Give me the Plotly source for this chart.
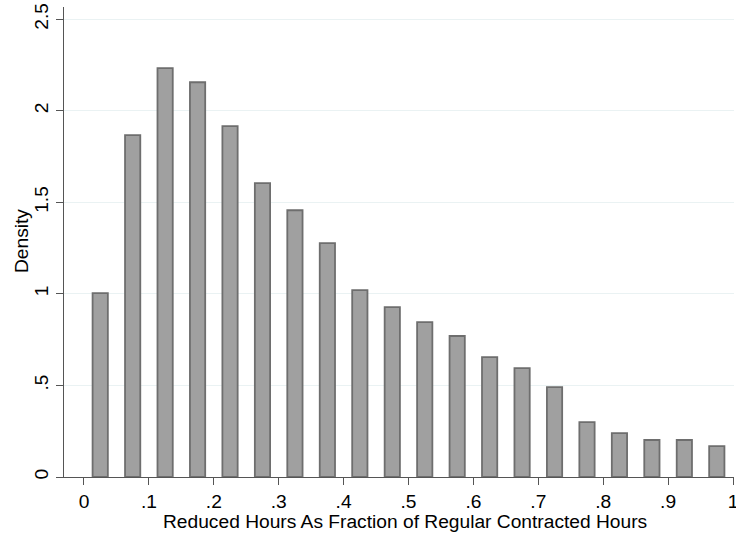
import plotly.graph_objects as go

bin_centers = [0.025, 0.075, 0.125, 0.175, 0.225, 0.275, 0.325, 0.375, 0.425, 0.475,
               0.525, 0.575, 0.625, 0.675, 0.725, 0.775, 0.825, 0.875, 0.925, 0.975]
density = [1.004, 1.867, 2.233, 2.156, 1.916, 1.605, 1.457, 1.277, 1.021, 0.928,
           0.846, 0.770, 0.655, 0.595, 0.491, 0.300, 0.240, 0.202, 0.202, 0.169]

x_tick_vals = [0, 0.1, 0.2, 0.3, 0.4, 0.5, 0.6, 0.7, 0.8, 0.9, 1.0]
x_tick_text = ["0", ".1", ".2", ".3", ".4", ".5", ".6", ".7", ".8", ".9", "1"]
y_tick_vals = [0, 0.5, 1.0, 1.5, 2.0, 2.5]
y_tick_text = ["0", ".5", "1", "1.5", "2", "2.5"]
x_title = "Reduced Hours As Fraction of Regular Contracted Hours"
y_title = "Density"

font_family = "Liberation Sans, Arial, sans-serif"
fs = 19.2

fig = go.Figure()
fig.add_trace(go.Bar(
    x=bin_centers, y=density, width=0.0235,
    marker=dict(color="#a0a0a0", line=dict(color="#6e6e6e", width=1.8)),
))

fig.update_layout(
    width=736, height=533,
    margin=dict(l=64, r=2, t=7, b=56, autoexpand=False),
    paper_bgcolor="white", plot_bgcolor="white",
    showlegend=False,
    font=dict(family=font_family, size=fs, color="#000000"),
    xaxis=dict(
        range=[-0.0308, 1.0015],
        automargin=False,
        tickmode="array", tickvals=x_tick_vals, ticktext=x_tick_text,
        ticks="outside", ticklen=7, tickwidth=1, tickcolor="#555555",
        showline=True, linecolor="#555555", linewidth=1.2,
        showgrid=False, zeroline=False,
        ticklabeloverflow="allow",
        tickfont=dict(size=fs),
    ),
    yaxis=dict(
        range=[0, 2.567],
        automargin=False,
        tickmode="array", tickvals=y_tick_vals, ticktext=y_tick_text,
        tickangle=-90,
        ticks="outside", ticklen=7, tickwidth=1, tickcolor="#555555",
        showline=True, linecolor="#555555", linewidth=1.2,
        showgrid=True, gridcolor="#eaf2f3", gridwidth=1.2,
        zeroline=False,
        ticklabeloverflow="allow",
        tickfont=dict(size=fs),
    ),
    annotations=[
        dict(text=x_title, xref="paper", yref="paper", x=0.509, y=-0.0955,
             xanchor="center", yanchor="middle", showarrow=False,
             font=dict(size=fs)),
        dict(text=y_title, xref="paper", yref="paper", x=-0.0642, y=0.502,
             xanchor="center", yanchor="middle", showarrow=False, textangle=-90,
             font=dict(size=fs)),
    ],
)

# remove the browser's default 8px body margin so the figure fills the window
fig.write_html("out.html", config={"displayModeBar": False},
               post_script="document.body.style.margin='0';")
